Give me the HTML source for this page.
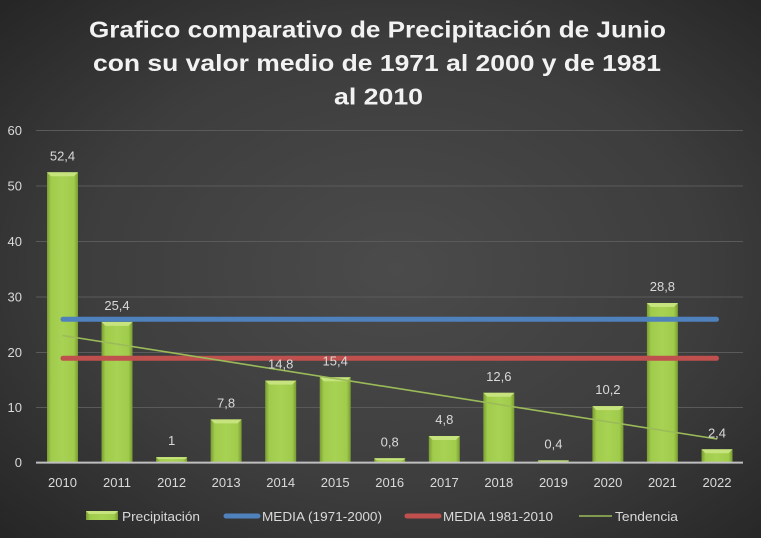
<!DOCTYPE html>
<html><head><meta charset="utf-8"><style>
html,body{margin:0;padding:0;background:#333;}
svg{display:block;}
text{font-family:"Liberation Sans",sans-serif;}
</style></head><body>
<svg width="761" height="538" viewBox="0 0 761 538" xmlns="http://www.w3.org/2000/svg">
<defs>
<radialGradient id="bg" cx="0.52" cy="0.5" r="0.75">
<stop offset="0" stop-color="#4b4b4b"/>
<stop offset="0.55" stop-color="#3d3d3d"/>
<stop offset="1" stop-color="#232323"/>
</radialGradient>
<linearGradient id="barH" x1="0" y1="0" x2="1" y2="0">
<stop offset="0" stop-color="#7a9c32"/>
<stop offset="0.13" stop-color="#a0cb4b"/>
<stop offset="0.5" stop-color="#a8d253"/>
<stop offset="0.87" stop-color="#a0cb4b"/>
<stop offset="1" stop-color="#7a9c32"/>
</linearGradient>
</defs>
<rect x="0" y="0" width="761" height="538" fill="url(#bg)"/>

<!-- title -->
<g fill="#f2f2f2" font-weight="bold" font-size="23">
<text x="89" y="37.5" textLength="577" lengthAdjust="spacingAndGlyphs">Grafico comparativo de Precipitación de Junio</text>
<text x="93" y="71" textLength="568" lengthAdjust="spacingAndGlyphs">con su valor medio de 1971 al 2000 y de 1981</text>
<text x="334" y="104.5" textLength="89" lengthAdjust="spacingAndGlyphs">al 2010</text>
</g>

<!-- gridlines -->
<g stroke="#5a5a5a" stroke-width="1">
<line x1="36" y1="130.5" x2="743" y2="130.5"/>
<line x1="36" y1="186" x2="743" y2="186"/>
<line x1="36" y1="241.5" x2="743" y2="241.5"/>
<line x1="36" y1="297" x2="743" y2="297"/>
<line x1="36" y1="352.5" x2="743" y2="352.5"/>
<line x1="36" y1="407.5" x2="743" y2="407.5"/>
</g>

<!-- y labels -->
<g fill="#d9d9d9" font-size="13" text-anchor="end">
<text x="22" y="135">60</text>
<text x="22" y="190.5">50</text>
<text x="22" y="246">40</text>
<text x="22" y="301.5">30</text>
<text x="22" y="357">20</text>
<text x="22" y="412">10</text>
<text x="22" y="467">0</text>
</g>

<!-- bars -->
<g id="bars"></g>
<g>
<!-- generated statically below -->
</g>
<g>
<!-- 2010 52.4 -->
<rect x="47" y="172.3" width="31" height="290.3" fill="url(#barH)"/><polygon points="47,172.3 78,172.3 74,176.3 51,176.3" fill="#c6e37e"/>
<!-- 2011 25.4 -->
<rect x="101.5" y="321.9" width="31" height="140.7" fill="url(#barH)"/><polygon points="101.5,321.9 132.5,321.9 128.5,325.9 105.5,325.9" fill="#c6e37e"/>
<!-- 2012 1 -->
<rect x="156.1" y="457.1" width="31" height="5.5" fill="url(#barH)"/><polygon points="156.1,457.1 187.1,457.1 185.1,459.1 158.1,459.1" fill="#c6e37e"/>
<!-- 2013 7.8 -->
<rect x="210.6" y="419.4" width="31" height="43.2" fill="url(#barH)"/><polygon points="210.6,419.4 241.6,419.4 237.6,423.4 214.6,423.4" fill="#c6e37e"/>
<!-- 2014 14.8 -->
<rect x="265.2" y="380.6" width="31" height="82" fill="url(#barH)"/><polygon points="265.2,380.6 296.2,380.6 292.2,384.6 269.2,384.6" fill="#c6e37e"/>
<!-- 2015 15.4 -->
<rect x="319.7" y="377.3" width="31" height="85.3" fill="url(#barH)"/><polygon points="319.7,377.3 350.7,377.3 346.7,381.3 323.7,381.3" fill="#c6e37e"/>
<!-- 2016 0.8 -->
<rect x="374.2" y="458.2" width="31" height="4.4" fill="url(#barH)"/><polygon points="374.2,458.2 405.2,458.2 403.2,460.2 376.2,460.2" fill="#c6e37e"/>
<!-- 2017 4.8 -->
<rect x="428.8" y="436" width="31" height="26.6" fill="url(#barH)"/><polygon points="428.8,436 459.8,436 455.8,440 432.8,440" fill="#c6e37e"/>
<!-- 2018 12.6 -->
<rect x="483.3" y="392.8" width="31" height="69.8" fill="url(#barH)"/><polygon points="483.3,392.8 514.3,392.8 510.3,396.8 487.3,396.8" fill="#c6e37e"/>
<!-- 2019 0.4 -->
<rect x="537.9" y="460.4" width="31" height="2.2" fill="url(#barH)"/><polygon points="537.9,460.4 568.9,460.4 567.9,461.4 538.9,461.4" fill="#c6e37e"/>
<!-- 2020 10.2 -->
<rect x="592.4" y="406.1" width="31" height="56.5" fill="url(#barH)"/><polygon points="592.4,406.1 623.4,406.1 619.4,410.1 596.4,410.1" fill="#c6e37e"/>
<!-- 2021 28.8 -->
<rect x="646.9" y="303" width="31" height="159.6" fill="url(#barH)"/><polygon points="646.9,303 677.9,303 673.9,307 650.9,307" fill="#c6e37e"/>
<!-- 2022 2.4 -->
<rect x="701.5" y="449.3" width="31" height="13.3" fill="url(#barH)"/><polygon points="701.5,449.3 732.5,449.3 728.5,453.3 705.5,453.3" fill="#c6e37e"/>
</g>

<!-- axis -->
<line x1="36" y1="462.6" x2="743" y2="462.6" stroke="#bfbfbf" stroke-width="2"/>

<!-- media lines -->
<line x1="63" y1="319.3" x2="716.5" y2="319.3" stroke="#4f81bd" stroke-width="5" stroke-linecap="round"/>
<line x1="63" y1="358.3" x2="716.5" y2="358.3" stroke="#c0504d" stroke-width="5" stroke-linecap="round"/>
<!-- trend -->
<line x1="62.5" y1="335.5" x2="717" y2="439" stroke="#9bbb59" stroke-width="1.6"/>

<!-- data labels -->
<g fill="#d9d9d9" font-size="13" text-anchor="middle">
<text x="62.5" y="160.5">52,4</text>
<text x="117" y="310">25,4</text>
<text x="171.6" y="445">1</text>
<text x="226.1" y="407.5">7,8</text>
<text x="280.7" y="368.5">14,8</text>
<text x="335.2" y="365.5">15,4</text>
<text x="389.7" y="446.3">0,8</text>
<text x="444.3" y="424">4,8</text>
<text x="498.8" y="381">12,6</text>
<text x="553.4" y="448.5">0,4</text>
<text x="607.9" y="394">10,2</text>
<text x="662.4" y="291">28,8</text>
<text x="717" y="437.3">2,4</text>
</g>

<!-- x labels -->
<g fill="#d9d9d9" font-size="13" text-anchor="middle">
<text x="62.5" y="487">2010</text>
<text x="117" y="487">2011</text>
<text x="171.6" y="487">2012</text>
<text x="226.1" y="487">2013</text>
<text x="280.7" y="487">2014</text>
<text x="335.2" y="487">2015</text>
<text x="389.7" y="487">2016</text>
<text x="444.3" y="487">2017</text>
<text x="498.8" y="487">2018</text>
<text x="553.4" y="487">2019</text>
<text x="607.9" y="487">2020</text>
<text x="662.4" y="487">2021</text>
<text x="717" y="487">2022</text>
</g>

<!-- legend -->
<rect x="86" y="511" width="32" height="9" fill="url(#barH)"/>
<polygon points="86,511 118,511 115,514 89,514" fill="#c6e37e"/>
<line x1="226" y1="516" x2="258" y2="516" stroke="#4f81bd" stroke-width="5" stroke-linecap="round"/>
<line x1="407" y1="516" x2="439" y2="516" stroke="#c0504d" stroke-width="5" stroke-linecap="round"/>
<line x1="579" y1="516" x2="612" y2="516" stroke="#9bbb59" stroke-width="1.6"/>
<g fill="#d9d9d9" font-size="13">
<text x="122" y="521" textLength="78" lengthAdjust="spacingAndGlyphs">Precipitación</text>
<text x="262" y="521" textLength="120" lengthAdjust="spacingAndGlyphs">MEDIA (1971-2000)</text>
<text x="443" y="521" textLength="110" lengthAdjust="spacingAndGlyphs">MEDIA 1981-2010</text>
<text x="615" y="521" textLength="63" lengthAdjust="spacingAndGlyphs">Tendencia</text>
</g>
</svg>
</body></html>
